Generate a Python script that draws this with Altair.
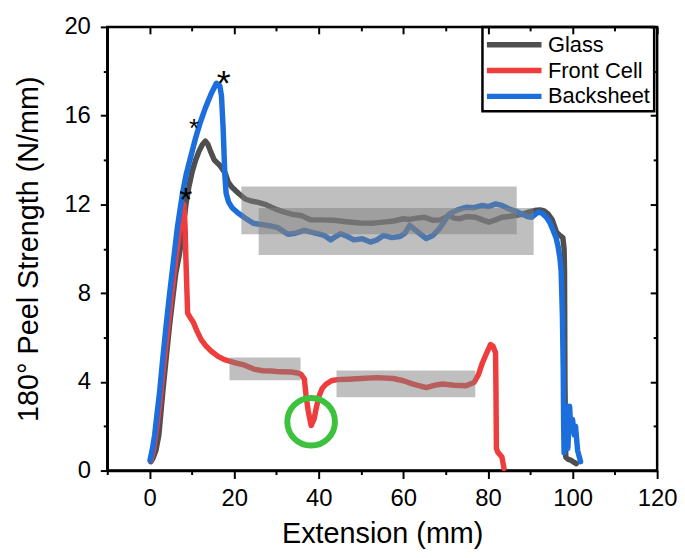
import altair as alt
import pandas as pd

# ---------------- data ----------------
glass_x = [0.3, 0.8, 1.5, 2.2, 3.1, 4.0, 4.7, 5.5, 6.2, 7.0, 7.6, 8.6, 9.3, 10.1, 10.9, 11.7, 12.5, 13.2,
           13.8, 14.4, 15.3, 16.4, 17.2, 17.9, 18.6, 19.5, 21.0, 22.6, 24.0, 25.7, 27.3, 28.8, 30.3, 31.9,
           33.8, 35.8, 37.0, 38.2, 40.5, 43.6, 46.5, 49.8, 52.5, 55.3, 57.7, 60.0, 61.5, 63.1, 65.0, 67.0,
           68.8, 70.9, 72.0, 73.2, 75.0, 77.1, 78.7, 80.2, 81.8, 83.3, 84.9, 86.4, 88.0, 89.6, 91.0, 92.3,
           93.3, 94.2, 95.2, 96.2, 97.0, 97.7, 98.0, 98.1, 98.2, 98.4, 99.0, 99.7, 100.3, 100.9]
glass_y = [0.4, 0.55, 0.9, 1.6, 3.5, 5.2, 6.5, 7.8, 8.9, 9.7, 10.4, 12.0, 12.8, 13.5, 14.0, 14.4, 14.7, 14.85,
           14.7, 14.4, 14.0, 13.8, 13.6, 13.4, 13.0, 12.77, 12.5, 12.24, 12.15, 12.09, 12.0, 11.87, 11.75, 11.65,
           11.55, 11.5, 11.4, 11.3, 11.3, 11.28, 11.22, 11.16, 11.15, 11.2, 11.25, 11.35, 11.32, 11.38, 11.42, 11.28,
           11.3, 11.5, 11.38, 11.35, 11.45, 11.42, 11.3, 11.2, 11.3, 11.42, 11.45, 11.5, 11.55, 11.65, 11.72, 11.75,
           11.7, 11.57, 11.3, 10.75, 10.6, 10.5, 10.0, 9.0, 4.0, 0.6, 0.5, 0.46, 0.38, 0.31]

front_x = [0.3, 0.9, 1.6, 2.4, 3.2, 4.2, 5.2, 6.2, 7.0, 7.6, 8.1, 8.4, 8.6, 9.0, 9.6, 10.3, 11.2, 12.2,
           13.4, 14.6, 16.2, 17.7, 20.3, 22.5, 24.9, 26.8, 28.8, 31.0, 33.5, 35.0, 35.8, 36.6, 37.0, 37.5,
           38.2, 38.9, 39.5, 40.1, 40.8, 41.7, 43.0, 44.4, 47.0, 50.0, 53.7, 57.6, 60.0, 62.3, 65.4, 67.5,
           69.3, 72.0, 74.8, 76.7, 77.7, 78.7, 79.7, 80.6, 81.2, 81.8, 81.9, 82.0, 82.3, 83.3, 83.6, 83.8]
front_y = [0.45, 0.9, 1.8, 3.0, 4.5, 6.2, 7.9, 9.5, 10.7, 11.5, 12.0, 11.0, 9.5, 7.1, 6.9, 6.7, 6.3, 5.9,
           5.6, 5.38, 5.15, 5.0, 4.86, 4.75, 4.56, 4.5, 4.49, 4.45, 4.44, 4.4, 4.34, 4.12, 3.37, 2.7,
           2.03, 2.33, 2.9, 3.37, 3.7, 3.89, 4.05, 4.1, 4.12, 4.15, 4.19, 4.15, 4.05, 3.9, 3.74, 3.85,
           3.9, 3.85, 3.82, 3.97, 4.3, 4.86, 5.3, 5.68, 5.6, 5.31, 3.5, 1.0, 0.84, 0.61, 0.3, 0.09]

back_x = [0.1, 0.6, 1.2, 1.8, 2.4, 3.1, 3.9, 4.7, 5.5, 6.6, 7.8, 8.6, 9.4, 10.9, 12.0, 13.2, 14.6, 15.8,
          16.6, 17.0, 17.4, 17.8, 18.1, 18.7, 19.5, 21.0, 22.5, 24.5, 26.0, 28.0, 30.3, 32.7, 34.5, 36.6,
          38.2, 39.7, 41.3, 42.8, 44.0, 45.2, 46.8, 48.3, 50.3, 52.2, 53.8, 55.3, 57.3, 59.2, 60.4, 61.5,
          63.1, 65.4, 67.0, 68.5, 70.9, 72.8, 74.8, 76.7, 78.7, 80.2, 81.8, 83.3, 84.9, 86.5, 88.0, 89.3,
          90.3, 91.2, 91.9, 92.8, 93.8, 94.6, 95.4, 96.1, 96.6, 97.0, 97.3, 97.6, 97.8, 97.9, 98.0, 98.3,
          98.6, 98.9, 99.3, 99.6, 100.0, 100.4, 100.7, 101.2, 101.9]
back_y = [0.46, 0.9, 1.6, 2.6, 3.6, 5.0, 6.5, 7.9, 9.2, 11.0, 12.5, 13.3, 13.9, 15.0, 15.7, 16.35, 17.0, 17.46,
          17.35, 16.9, 15.4, 13.3, 12.5, 12.1, 11.85, 11.6, 11.4, 11.15, 11.1, 11.05, 10.95, 10.65, 10.7, 10.83,
          10.75, 10.68, 10.6, 10.4, 10.55, 10.68, 10.55, 10.4, 10.45, 10.3, 10.4, 10.6, 10.5, 10.55, 10.7, 11.05,
          10.8, 10.46, 10.6, 10.9, 11.57, 11.75, 11.87, 11.85, 11.95, 11.9, 12.02, 11.95, 11.8, 11.7, 11.57, 11.45,
          11.42, 11.55, 11.65, 11.6, 11.42, 11.2, 10.83, 10.5, 10.08, 9.6, 9.0, 7.0, 4.5, 2.0, 0.8, 1.5,
          2.9, 1.0, 2.9, 1.8, 2.3, 1.6, 2.0, 0.9, 0.4]

series_names = ["Glass", "Front Cell", "Backsheet"]
series_colors = ["#4f4f4f", "#ef3d3d", "#1c6edc"]

# grey highlight boxes (x1, x2, y1, y2)
box_x1 = [21.7, 25.8, 18.9, 44.2]
box_x2 = [86.8, 90.8, 35.7, 77.0]
box_y1 = [10.65, 9.72, 4.07, 3.30]
box_y2 = [12.80, 11.84, 5.10, 4.51]

# green circle marker
circle_x = [38.2]
circle_y = [2.2]

# asterisks
star_x = [8.6, 10.5, 17.5]
star_y = [12.5, 15.75, 17.8]
star_size = [34, 26, 36]

x_major = [0, 20, 40, 60, 80, 100, 120]
x_minor = [-10, 10, 30, 50, 70, 90, 110]
y_major = [0, 4, 8, 12, 16, 20]
y_minor = [2, 6, 10, 14, 18]

# ---------------- tables ----------------
rows = []
for name, xs, ys in zip(series_names, [glass_x, front_x, back_x], [glass_y, front_y, back_y]):
    for i, (a, b) in enumerate(zip(xs, ys)):
        rows.append({"series": name, "x": a, "y": b, "i": i})
lines_df = pd.DataFrame(rows)
boxes_df = pd.DataFrame({"x1": box_x1, "x2": box_x2, "y1": box_y1, "y2": box_y2})
circle_df = pd.DataFrame({"x": circle_x, "y": circle_y})
star_df = pd.DataFrame({"x": star_x, "y": star_y, "fs": star_size})

FONT = "Liberation Sans"
xs = alt.Scale(domain=[-10, 120], nice=False, zero=False)
ys = alt.Scale(domain=[0, 20], nice=False, zero=False)

common_axis = dict(grid=False, tickColor="black", tickWidth=2, labelFlush=False)

def hidden_axis(orient, values, size, inward):
    kw = dict(orient=orient, values=values, tickSize=size, labels=False, domain=False,
              title=None, **common_axis)
    if inward:
        kw["offset"] = -size
    return alt.Axis(**kw)

lines = alt.Chart(lines_df).mark_line(strokeWidth=5.5, strokeJoin="round", strokeCap="round").encode(
    x=alt.X("x:Q", scale=xs, axis=alt.Axis(
        orient="bottom", values=x_major, tickSize=8, labelFontSize=24, labelFont=FONT,
        labelColor="black", labelPadding=8, title="Extension (mm)", titleFont=FONT,
        titleFontSize=29, titleFontWeight="normal", titleColor="black", titlePadding=9,
        domain=True, domainColor="black", domainWidth=2.5, **common_axis)),
    y=alt.Y("y:Q", scale=ys, axis=alt.Axis(
        orient="left", values=y_major, tickSize=7, labelFontSize=24, labelFont=FONT,
        labelColor="black", labelPadding=10, title="180° Peel Strength (N/mm)", titleFont=FONT,
        titleFontSize=29, titleFontWeight="normal", titleColor="black", titlePadding=21,
        domain=True, domainColor="black", domainWidth=2.5, **common_axis)),
    color=alt.Color("series:N", scale=alt.Scale(domain=series_names, range=series_colors),
                    title=None,
                    legend=alt.Legend(orient="none", legendX=378, legendY=0, strokeColor="black",
                                      padding=4, symbolType="M-2.5,0H2.5", symbolSize=484,
                                      symbolOffset=14, symbolStrokeWidth=5.5, labelFontSize=22,
                                      labelFont=FONT, labelColor="black", labelOffset=20,
                                      rowPadding=1)),
    order=alt.Order("i:Q"),
)

boxes = alt.Chart(boxes_df).mark_rect(color="#808080", opacity=0.5).encode(
    x=alt.X("x1:Q", scale=xs, axis=hidden_axis("bottom", x_minor, 4, False)),
    x2="x2:Q",
    y=alt.Y("y1:Q", scale=ys, axis=hidden_axis("left", y_minor, 4, False)),
    y2="y2:Q",
)

circle = alt.Chart(circle_df).mark_point(shape="circle", filled=False, size=2304, strokeWidth=6,
                                          color="#3cc23c", opacity=1).encode(
    x=alt.X("x:Q", scale=xs, axis=hidden_axis("top", x_major, 7, True)),
    y=alt.Y("y:Q", scale=ys, axis=hidden_axis("right", y_major, 7, True)),
)

stars = alt.Chart(star_df).mark_text(text="*", font=FONT, color="black", baseline="middle", dy=8).encode(
    x=alt.X("x:Q", scale=xs, axis=hidden_axis("top", x_minor, 4, True)),
    y=alt.Y("y:Q", scale=ys, axis=hidden_axis("right", y_minor, 4, True)),
    size=alt.Size("fs:Q", scale=None, legend=None),
)

chart = alt.layer(lines, boxes, circle, stars).resolve_axis(
    x="independent", y="independent"
).properties(
    width=554, height=447,
    autosize=alt.AutoSizeParams(type="none"),
    padding={"left": 100, "top": 17, "right": 20, "bottom": 78},
).configure_view(stroke="black", strokeWidth=2.5).configure_legend(strokeWidth=2.5)

chart.save("out.html", embed_options={"renderer": "svg", "actions": False})
